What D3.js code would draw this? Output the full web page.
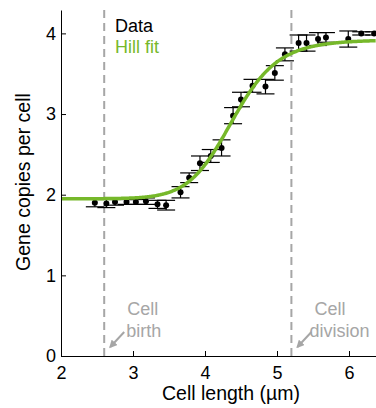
<!DOCTYPE html>
<html>
<head>
<meta charset="utf-8">
<script src="https://cdn.jsdelivr.net/npm/d3@7"></script>
<style>
  html, body { margin: 0; padding: 0; background: #fff; }
  svg { display: block; }
  text { font-family: "Liberation Sans", Arial, sans-serif; }
</style>
</head>
<body>
<svg id="chart" width="376" height="408"></svg>
<script>
// Binned measurements: cell length (µm), mean gene copies, error half-width
const cellLength = [2.47, 2.63, 2.75, 2.91, 3.04, 3.18, 3.34, 3.46, 3.66, 3.78, 3.93, 4.08, 4.23,
                    4.39, 4.50, 4.66, 4.84, 4.97, 5.11, 5.30, 5.41, 5.57, 5.68, 5.99, 6.17, 6.35];
const geneCopies = [1.90, 1.89, 1.91, 1.91, 1.91, 1.92, 1.88, 1.87, 2.03, 2.21, 2.39, 2.48, 2.58,
                    2.98, 3.18, 3.35, 3.34, 3.51, 3.74, 3.88, 3.88, 3.93, 3.95, 3.93, 4.00, 4.00];
const copiesErr  = [0.05, 0.05, 0.04, 0.03, 0.03, 0.04, 0.05, 0.06, 0.07, 0.06, 0.09, 0.08, 0.10,
                    0.10, 0.09, 0.08, 0.09, 0.09, 0.08, 0.10, 0.10, 0.08, 0.06, 0.10, 0.02, 0.02];

// Hill fit parameters: baseline, amplitude, half-point (µm), Hill coefficient
const hillBase = 1.95, hillAmp = 1.97, hillK = 4.39, hillN = 14;

const xTicks = [2, 3, 4, 5, 6];
const yTicks = [0, 1, 2, 3, 4];
const cellEvents = [
  { x: 2.6, lines: ["Cell", "birth"] },
  { x: 5.2, lines: ["Cell", "division"] }
];

const svg = d3.select("#chart");
const x = d3.scaleLinear().domain([2, 6.375]).range([61, 376]);
const y = d3.scaleLinear().domain([0, 4.29]).range([356, 10]);

const green = "#76b82a";
const grey = "#a6a6a6";

svg.append("defs").append("marker")
  .attr("id", "arrow").attr("viewBox", "0 0 10 10")
  .attr("refX", 8).attr("refY", 5)
  .attr("markerWidth", 4).attr("markerHeight", 4)
  .attr("orient", "auto")
  .append("path").attr("d", "M0,0 L10,5 L0,10 Z").attr("fill", grey);

// Vertical dashed markers at birth and division lengths
svg.selectAll("line.event").data(cellEvents).join("line")
  .attr("class", "event")
  .attr("x1", d => x(d.x)).attr("x2", d => x(d.x))
  .attr("y1", y(4.29)).attr("y2", y(0))
  .attr("stroke", grey).attr("stroke-width", 2)
  .attr("stroke-dasharray", "8,5");

// Event annotations with arrows
cellEvents.forEach(ev => {
  const px = x(ev.x);
  const t = svg.append("text").attr("fill", grey).attr("font-size", 18);
  t.append("tspan").attr("x", px + 23).attr("y", 315).text(ev.lines[0]);
  t.append("tspan").attr("x", px + (ev.lines[1] === "birth" ? 22 : 18)).attr("y", 337).text(ev.lines[1]);
  svg.append("line")
    .attr("x1", px + 20).attr("y1", 332)
    .attr("x2", px + 6).attr("y2", 347)
    .attr("stroke", grey).attr("stroke-width", 2)
    .attr("marker-end", "url(#arrow)");
});

// Error bars with wide caps
const pts = cellLength.map((c, i) => ({ x: c, y: geneCopies[i], e: copiesErr[i] }));
const capHalf = 9;
const eb = svg.append("g").attr("stroke", "#000").attr("stroke-width", 1.2);
pts.forEach(p => {
  const cx = x(p.x), top = y(p.y + p.e), bot = y(p.y - p.e);
  eb.append("line").attr("x1", cx).attr("x2", cx).attr("y1", top).attr("y2", bot);
  eb.append("line").attr("x1", cx - capHalf).attr("x2", cx + capHalf).attr("y1", top).attr("y2", top);
  eb.append("line").attr("x1", cx - capHalf).attr("x2", cx + capHalf).attr("y1", bot).attr("y2", bot);
});

// Data points
svg.append("g").selectAll("circle").data(pts).join("circle")
  .attr("cx", d => x(d.x)).attr("cy", d => y(d.y)).attr("r", 3)
  .attr("fill", "#000");

// Hill fit curve
const hill = L => hillBase + hillAmp * Math.pow(L, hillN) / (Math.pow(hillK, hillN) + Math.pow(L, hillN));
const fitX = d3.range(2, 6.376, 0.01);
svg.append("path")
  .datum(fitX)
  .attr("fill", "none").attr("stroke", green).attr("stroke-width", 3.5)
  .attr("d", d3.line().x(d => x(d)).y(d => y(hill(d))));

// Axes
const xAxis = svg.append("g").attr("transform", "translate(0,356)")
  .call(d3.axisBottom(x).tickValues(xTicks).tickFormat(d3.format("d"))
    .tickSizeInner(-5).tickSizeOuter(0).tickPadding(10));
const yAxis = svg.append("g").attr("transform", "translate(61,0)")
  .call(d3.axisLeft(y).tickValues(yTicks).tickFormat(d3.format("d"))
    .tickSizeInner(-5).tickSizeOuter(0).tickPadding(5));
[xAxis, yAxis].forEach(a => {
  a.select(".domain").attr("stroke", "#000").attr("stroke-width", 1);
  a.selectAll(".tick line").attr("stroke", "#000");
  a.selectAll(".tick text").attr("font-size", 18).attr("fill", "#000")
    .attr("font-family", "Liberation Sans, Arial, sans-serif");
});
xAxis.selectAll(".tick text").attr("dy", "0.71em");

// Axis titles
svg.append("text").attr("x", 231).attr("y", 400).attr("text-anchor", "middle")
  .attr("font-size", 19.5).text("Cell length (µm)");
svg.append("text").attr("transform", "translate(30,182) rotate(-90)")
  .attr("text-anchor", "middle").attr("font-size", 19.5).text("Gene copies per cell");

// Legend
svg.append("text").attr("x", 115).attr("y", 32).attr("font-size", 18).attr("fill", "#000").text("Data");
svg.append("text").attr("x", 115).attr("y", 53).attr("font-size", 18).attr("fill", green).text("Hill fit");
</script>
</body>
</html>
